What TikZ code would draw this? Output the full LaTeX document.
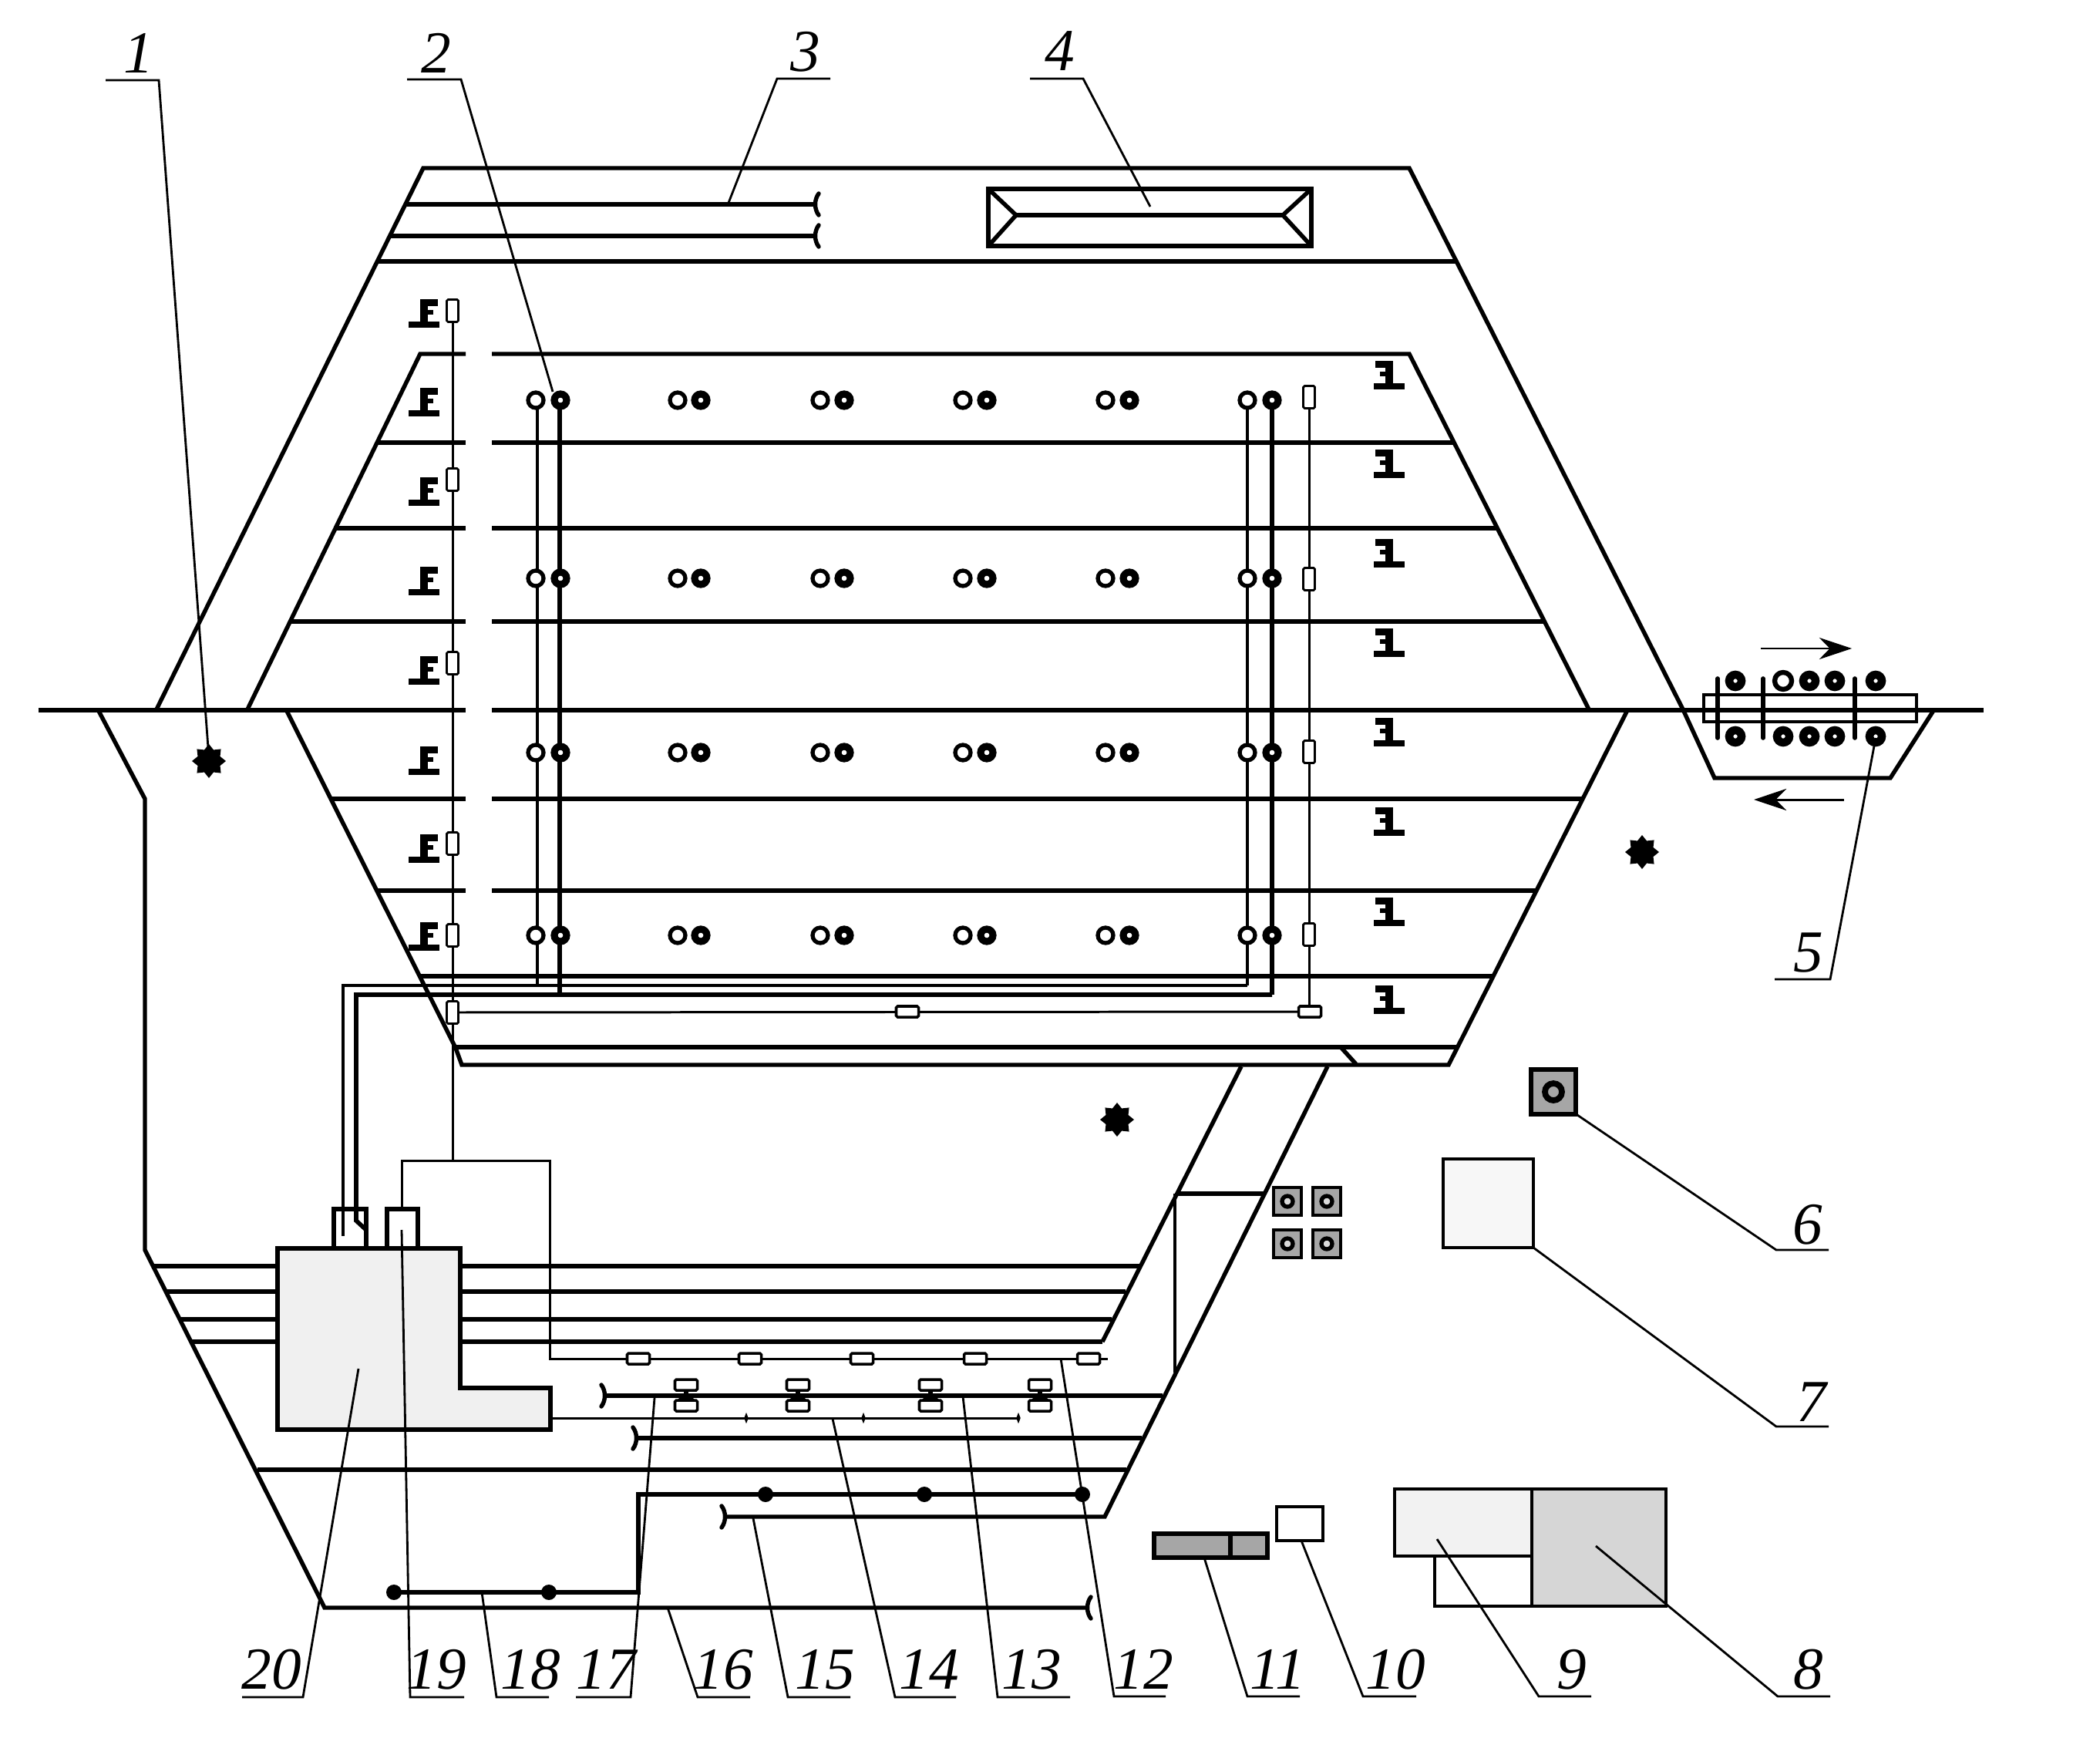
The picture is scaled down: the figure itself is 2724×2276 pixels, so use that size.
\documentclass[tikz,border=0pt]{standalone}
\usepackage{fontspec}
\setmainfont{Liberation Serif}
\usetikzlibrary{shapes.geometric,arrows.meta}
\tikzset{
	track/.style={line width=1.55pt},
	wire/.style={line width=0.85pt},
	pipe/.style={line width=0.95pt},
	leader/.style={line width=0.8pt},
	numlabel/.style={font=\fontsize{22}{22}\selectfont\itshape, inner sep=0pt},
	wheelopen/.style={circle, draw, fill=white, line width=1.5pt, minimum size=0.2cm, inner sep=0pt},
	wheelfull/.style={circle, draw, fill=white, line width=2.6pt, minimum size=0.16cm, inner sep=0pt},
	rollerfull/.style={circle, draw, fill=white, line width=3pt, minimum size=0.16cm, inner sep=0pt},
	rolleropen/.style={circle, draw, fill=white, line width=1.8pt, minimum size=0.22cm, inner sep=0pt},
	relayv/.style={rectangle, draw, fill=white, line width=0.8pt, rounded corners=0.5pt, minimum width=0.15cm, minimum height=0.29cm, inner sep=0pt},
	relayh/.style={rectangle, draw, fill=white, line width=1pt, rounded corners=0.5pt, minimum width=0.29cm, minimum height=0.14cm, inner sep=0pt},
	yardstar/.style={star, star points=8, star point ratio=1.4, fill=black, minimum size=0.44cm, inner sep=0pt},
	tick/.style={diamond, fill=black, minimum width=0.06cm, minimum height=0.15cm, inner sep=0pt},
	ringbox/.style={rectangle, draw, fill=black!35, line width=1.4pt, minimum size=0.36cm, inner sep=0pt},
	ringdot/.style={circle, draw, fill=black!15, line width=1.5pt, minimum size=0.14cm, inner sep=0pt},
	signalmark/.pic={
		\fill (-20,11) rectangle (20,19);
		\fill (-5,-18) rectangle (5,11);
		\fill (-5,-18) rectangle (18,-9);
		\fill (-5,-4) rectangle (12,2);
	},
	stopmark/.pic={
		\draw[track, line cap=round] (-4,-14) .. controls (2,-6) and (2,6) .. (-4,14);
	},
}
\begin{document}
\begin{tikzpicture}[x=0.01cm, y=-0.01cm]
	\useasboundingbox (0,0) rectangle (2724,2276);

	% Hump outline
	\draw[track] (202,922) -- (549,218) -- (1828,218) -- (2183,920) -- (2224,1009) -- (2452,1009) -- (2509,920);
	\draw[track] (320,922) -- (545,459) -- (604,459);
	\draw[track] (638,459) -- (1828,459) -- (2061,920);
	\draw[track] (50,921) -- (604,921);
	\draw[track] (638,921) -- (2573,921);
	\draw[track] (128,922) -- (188,1036) -- (188,1621) -- (421,2085) -- (1411,2085);
	\draw[track] (372,922) -- (591,1359) -- (599,1381) -- (1879,1381) -- (2111,921);
	\draw[track] (1740,1359) -- (1759,1380);

	% Upper tracks
	\draw[track] (526,265) -- (1058,265);
	\draw[track] (506,306) -- (1058,306);
	\draw[track] (489,339) -- (1889,339);
	\pic[xscale=-1] at (1058,265) {stopmark};
	\pic[xscale=-1] at (1058,306) {stopmark};

	% Building with the roof lines
	\draw[line width=1.7pt] (1282,245) rectangle (1701,319);
	\draw[track] (1282,245) -- (1318,279) -- (1282,319);
	\draw[track] (1701,245) -- (1664,279) -- (1701,319);
	\draw[track] (1318,279) -- (1664,279);

	% Yard tracks
	\foreach \y/\xa/\xb in {574/489/1886, 685/435/1942, 806/376/2003, 1036/430/2053, 1155/489/1993} {
		\draw[track] (\xa,\y) -- (604,\y);
		\draw[track] (638,\y) -- (\xb,\y);
	}
	\draw[track] (545,1266) -- (1936,1266);
	\draw[track] (591,1358) -- (1890,1358);

	% Pipes down from the wheels
	\draw[wire] (587,403) -- (587,1505);
	\draw[wire] (1698,515) -- (1698,1312);
	\draw[wire] (587,1313) -- (1698,1312);
	\draw[pipe] (697,519) -- (697,1278);
	\draw[pipe] (1618,519) -- (1618,1278);
	\draw[line width=1.6pt] (726,519) -- (726,1290);
	\draw[line width=1.6pt] (1650,519) -- (1650,1290);
	\draw[pipe] (445,1603) -- (445,1278) -- (1618,1278);
	\draw[line width=1.6pt] (475,1595) -- (462,1583) -- (462,1290) -- (1650,1290);
	\draw[wire] (521,1568) -- (521,1505) -- (713,1505) -- (713,1762) -- (1437,1762);

	% Wheels
	\foreach \y in {519,750,976,1213} {
		\foreach \x/\xb in {695/727, 879/909, 1064/1095, 1249/1280, 1434/1465, 1618/1650} {
			\node[wheelopen] (wo-\x-\y) at (\x,\y) {};
			\node[wheelfull] (wf-\xb-\y) at (\xb,\y) {};
		}
	}

	% Relays
	\foreach \y in {403,622,860,1094,1213,1313} {
		\node[relayv] (ra-\y) at (587,\y) {};
	}
	\foreach \y in {515,751,975,1212} {
		\node[relayv] (rb-\y) at (1698,\y) {};
	}
	\node[relayh] (rc) at (1177,1312) {};
	\node[relayh] (rd) at (1699,1312) {};

	% Signals
	\foreach \y in {406,521,637,753,869,986,1100,1214} {
		\pic at (550,\y) {signalmark};
	}
	\foreach \y in {486,601,717,833,949,1065,1182,1296} {
		\pic[xscale=-1] at (1802,\y) {signalmark};
	}

	% Stars
	\node[yardstar] (star1) at (271,987) {};
	\node[yardstar] (star2) at (2130,1105) {};
	\node[yardstar] (star3) at (1449,1452) {};

	% Station track block
	\draw[line width=1.3pt] (2210,901) rectangle (2486,936);
	\foreach \x in {2228,2287,2406} {
		\draw[line width=1.6pt, line cap=round] (\x,880) -- (\x,957);
	}
	\foreach \x in {2251,2347,2380,2433} {
		\node[rollerfull] (rt-\x) at (\x,883) {};
	}
	\node[rolleropen] (rt-open) at (2313,883) {};
	\foreach \x in {2251,2313,2347,2380,2433} {
		\node[rollerfull] (rb-\x) at (\x,955) {};
	}
	\draw[-{Stealth[length=12pt, width=8pt]}, wire] (2284,841) -- (2402,841);
	\draw[-{Stealth[length=12pt, width=8pt]}, wire] (2392,1037) -- (2275,1037);

	% Lower yard
	\filldraw[track, fill=black!6] (360,1619) -- (597,1619) -- (597,1800) -- (714,1800) -- (714,1854) -- (360,1854) -- cycle;
	\draw[line width=1.6pt] (433,1619) -- (433,1568) -- (475,1568) -- (475,1619);
	\draw[line width=1.6pt] (502,1619) -- (502,1568) -- (542,1568) -- (542,1619);
	\foreach \y/\xa/\xb in {1642/199/1478, 1675/215/1460, 1711/233/1442, 1740/248/1430} {
		\draw[track] (\xa,\y) -- (360,\y);
		\draw[track] (597,\y) -- (\xb,\y);
	}
	\draw[track] (1610,1383) -- (1430,1740);
	\draw[track] (1722,1383) -- (1433,1967) -- (940,1967);
	\draw[track] (1526,1548) -- (1640,1548);
	\draw[line width=1.2pt] (1524,1548) -- (1524,1780);
	\draw[track] (784,1810) -- (1508,1810);
	\draw[track] (825,1865) -- (1481,1865);
	\draw[track] (334,1906) -- (1461,1906);
	\draw[track] (511,2065) -- (828,2065) -- (828,1938) -- (1404,1938);
	\draw[wire] (714,1839) -- (1322,1839);
	\pic at (784,1810) {stopmark};
	\pic at (825,1865) {stopmark};
	\pic at (940,1967) {stopmark};
	\pic[xscale=-1] at (1411,2085) {stopmark};

	% Small parts on the lower tracks
	\foreach \x in {828,973,1118,1265,1412} {
		\node[relayh] (rl-\x) at (\x,1762) {};
	}
	\foreach \x in {890,1035,1207,1349} {
		\draw[line width=1.5pt] (\x,1796) -- (\x,1823);
		\fill (\x-12,1816) -- (\x+12,1816) -- (\x,1804) -- cycle;
		\node[relayh] (ca-\x) at (\x,1796) {};
		\node[relayh] (cb-\x) at (\x,1823) {};
	}
	\foreach \x in {968,1120,1321} {
		\node[tick] (tk-\x) at (\x,1839) {};
	}
	\foreach \x/\y in {511/2065, 712/2065, 993/1938, 1199/1938, 1404/1938} {
		\fill (\x,\y) circle[radius=10];
	}

	% Buildings on the right
	\node[ringbox, line width=1.7pt, minimum size=0.58cm] (box6) at (2015,1416) {};
	\node[ringdot, fill=black!35, line width=2.2pt, minimum size=0.22cm] (ring6) at (2015,1416) {};
	\filldraw[line width=1.2pt, fill=black!3] (1872,1503) rectangle (1989,1618);
	\foreach \x/\y in {1670/1558, 1721/1558, 1670/1613, 1721/1613} {
		\node[ringbox] (box-\x-\y) at (\x,\y) {};
		\node[ringdot] (ring-\x-\y) at (\x,\y) {};
	}
	\filldraw[line width=1.3pt, fill=black!16] (1987,1931) rectangle (2161,2083);
	\filldraw[line width=1.3pt, fill=black!5] (1809,1931) rectangle (1987,2018);
	\draw[line width=1.3pt] (1861,2018) -- (1861,2083) -- (1987,2083);
	\draw[line width=1.3pt] (1656,1954) rectangle (1716,1998);
	\filldraw[line width=1.5pt, fill=black!35] (1497,1989) rectangle (1644,2020);
	\draw[line width=1.5pt] (1596,1989) -- (1596,2020);

	% Labels
	\node[numlabel] (n1) at (180,69) {1};
	\node[numlabel] (n2) at (566,69) {2};
	\node[numlabel] (n3) at (1045,67) {3};
	\node[numlabel] (n4) at (1375,66) {4};
	\node[numlabel] (n5) at (2346,1236) {5};
	\node[numlabel] (n6) at (2345,1588) {6};
	\node[numlabel] (n7) at (2350,1818) {7};
	\foreach \lab/\x in {8/2346, 9/2039, 10/1810, 11/1657, 12/1483, 13/1338, 14/1205, 15/1070, 16/938, 17/786, 18/688, 19/566, 20/352} {
		\node[numlabel] (n\lab) at (\x,2165) {\lab};
	}

	% Leaders
	\draw[leader] (137,104) -- (206,104) -- (271,983);
	\draw[leader] (528,103) -- (598,103) -- (717,508);
	\draw[leader] (1077,102) -- (1008,102) -- (945,263);
	\draw[leader] (1336,102) -- (1405,102) -- (1492,268);
	\draw[leader] (2433,957) -- (2374,1270) -- (2302,1270);
	\draw[leader] (2046,1446) -- (2304,1621) -- (2372,1621);
	\draw[leader] (1989,1618) -- (2304,1850) -- (2372,1850);
	\draw[leader] (2070,2005) -- (2306,2200) -- (2374,2200);
	\draw[leader] (1864,1996) -- (1996,2200) -- (2064,2200);
	\draw[leader] (1688,1998) -- (1768,2200) -- (1837,2200);
	\draw[leader] (1562,2020) -- (1618,2200) -- (1686,2200);
	\draw[leader] (1376,1762) -- (1445,2200) -- (1512,2200);
	\draw[leader] (1249,1811) -- (1294,2201) -- (1388,2201);
	\draw[leader] (1080,1840) -- (1161,2201) -- (1240,2201);
	\draw[leader] (977,1969) -- (1022,2201) -- (1103,2201);
	\draw[leader] (866,2085) -- (905,2201) -- (973,2201);
	\draw[leader] (849,1813) -- (818,2201) -- (747,2201);
	\draw[leader] (625,2065) -- (644,2201) -- (712,2201);
	\draw[leader] (521,1595) -- (532,2201) -- (602,2201);
	\draw[leader] (465,1775) -- (393,2201) -- (314,2201);
\end{tikzpicture}
\end{document}
